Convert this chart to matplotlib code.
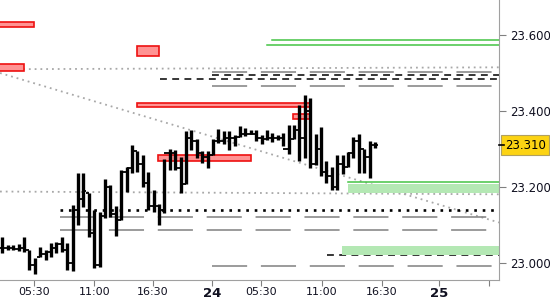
import numpy as np
import matplotlib.pyplot as plt
from matplotlib.patches import Rectangle

# OHLC bars (index based)
highs = [23.069, 23.048, 23.048, 23.051, 23.069, 23.035, 23.014, 23.043, 23.035, 23.053,
         23.056, 23.069, 23.053, 23.153, 23.237, 23.237, 23.185, 23.140, 23.135, 23.221,
         23.206, 23.150, 23.245, 23.253, 23.311, 23.295, 23.284, 23.240, 23.192, 23.156,
         23.274, 23.300, 23.297, 23.279, 23.347, 23.350, 23.326, 23.295, 23.295, 23.326,
         23.353, 23.347, 23.347, 23.337, 23.360, 23.355, 23.350, 23.350, 23.337, 23.350,
         23.342, 23.337, 23.342, 23.363, 23.363, 23.416, 23.442, 23.434, 23.339, 23.358,
         23.269, 23.253, 23.284, 23.284, 23.292, 23.332, 23.339, 23.300, 23.321, 23.318]
lows = [23.027, 23.035, 23.035, 23.032, 23.030, 22.982, 22.972, 23.017, 23.009, 23.017,
        23.027, 23.030, 22.982, 22.980, 23.101, 23.148, 23.069, 22.988, 22.990, 23.119,
        23.122, 23.072, 23.114, 23.187, 23.237, 23.240, 23.200, 23.140, 23.135, 23.101,
        23.132, 23.245, 23.245, 23.185, 23.208, 23.297, 23.276, 23.263, 23.250, 23.284,
        23.316, 23.313, 23.297, 23.308, 23.332, 23.334, 23.339, 23.321, 23.313, 23.324,
        23.318, 23.324, 23.308, 23.287, 23.326, 23.269, 23.276, 23.250, 23.258, 23.229,
        23.211, 23.192, 23.192, 23.234, 23.253, 23.276, 23.237, 23.237, 23.224, 23.303]
closes = [23.040, 23.040, 23.038, 23.040, 23.035, 22.995, 23.010, 23.025, 23.030, 23.040,
          23.050, 23.035, 23.000, 23.140, 23.170, 23.190, 23.080, 22.995, 23.125, 23.200,
          23.130, 23.090, 23.240, 23.250, 23.295, 23.260, 23.210, 23.150, 23.150, 23.140,
          23.290, 23.290, 23.250, 23.200, 23.330, 23.320, 23.290, 23.280, 23.260, 23.320,
          23.320, 23.330, 23.330, 23.320, 23.340, 23.340, 23.340, 23.330, 23.325, 23.330,
          23.330, 23.330, 23.300, 23.300, 23.350, 23.330, 23.400, 23.260, 23.300, 23.240,
          23.230, 23.200, 23.260, 23.240, 23.290, 23.320, 23.300, 23.280, 23.310, 23.310]

last_price = 23.310

xtick_pos = [5.85, 17.0, 27.9, 38.8, 47.9, 59.2, 70.3, 80.9, 90.1]
xtick_labels = ["05:30", "11:00", "16:30", "24", "05:30", "11:00", "16:30", "25", ""]
ytick_vals = [23.6, 23.4, 23.2, 23.0]

# zones: (start index, end index, low, high)
red_zones = [(-3, 5.85, 23.6194, 23.6325), (-3, 4.0, 23.5055, 23.5223),
             (24.9, 29.0, 23.5441, 23.5703), (24.9, 57.1, 23.4102, 23.4207),
             (53.8, 57.1, 23.3787, 23.3932), (28.8, 46.0, 23.2685, 23.2843)]
green_zones = [(64.0, 95, 23.1845, 23.2081), (62.9, 95, 23.0218, 23.0454)]
green_lines = [(49.9, 23.5853), (49.0, 23.5722), (64.0, 23.2126)]
gray_dash = [(10.7, 23.1207), (10.7, 23.0874), (38.8, 22.9942), (38.8, 23.5029), (38.8, 23.4654)]
black_dash = [(29.2, 23.4829), (38.8, 23.4934), (60.1, 23.0218)]
black_dot_level = (10.7, 23.1399)
# sloped gray dotted lines: (x0, y0, x1, y1)
gray_dots = [(-0.44, 23.5094, 91.96, 23.5144), (-0.44, 23.4995, 91.96, 23.1071),
             (-0.44, 23.1884, 91.96, 23.1811)]

x_left, x_right = -0.44, 91.96
y_bot, y_top = 22.9562, 23.6911

fig = plt.figure(figsize=(5.5, 3), dpi=100)
ax = fig.add_axes([0, 20 / 300, 499 / 550, 280 / 300])
ax.set_xlim(x_left, x_right)
ax.set_ylim(y_bot, y_top)

# levels
for x0, y0, x1, y1 in gray_dots:
    ax.plot([x0, x1], [y0, y1], color="#a8a8a8", lw=1.3, linestyle=(0, (1, 2.2)), zorder=1)
for x0, lvl in gray_dash:
    ax.plot([x0, x_right], [lvl, lvl], color="#808080", lw=1.1, linestyle=(0, (23, 9)), zorder=1)
for x0, lvl in black_dash:
    ax.plot([x0, x_right], [lvl, lvl], color="black", lw=1.1, linestyle=(0, (4.5, 3.5)), zorder=1)
ax.plot([black_dot_level[0], x_right], [black_dot_level[1]] * 2, color="black", lw=1.9,
        linestyle=(0, (1, 2.2)), zorder=1)
for x0, lvl in green_lines:
    ax.plot([x0, x_right], [lvl, lvl], color="#44c444", lw=1.1, zorder=2)
for x0, x1, lo, hi in green_zones:
    ax.add_patch(Rectangle((x0, lo), x1 - x0, hi - lo, facecolor="#b4e8b4",
                           edgecolor="none", zorder=1))
for x0, x1, lo, hi in red_zones:
    ax.add_patch(Rectangle((x0, lo), x1 - x0, hi - lo, facecolor="#ff9393",
                           edgecolor="#ee1111", lw=1.2, zorder=2))

# bars
idx = np.arange(len(highs))
opens = [closes[0]] + closes[:-1]
opens = np.clip(opens, lows, highs)
ax.vlines(idx, lows, highs, color="black", lw=2.4, zorder=3)
ax.hlines(opens, idx - 0.5, idx, color="black", lw=1.3, zorder=3)
ax.hlines(closes, idx, idx + 0.5, color="black", lw=1.3, zorder=3)

# axes styling
for s in ["top", "left"]:
    ax.spines[s].set_visible(False)
ax.spines["right"].set_color("#a0a0a0")
ax.spines["bottom"].set_color("#a0a0a0")
ax.yaxis.tick_right()
ax.set_yticks(ytick_vals)
ax.set_yticklabels([f"{v:.3f}" for v in ytick_vals], fontsize=8.5, color="#101020")
ax.tick_params(axis="y", length=5, color="#808080", pad=3)
ax.set_xticks(xtick_pos)
ax.set_xticklabels(xtick_labels, fontsize=8, color="#101020")
ax.tick_params(axis="x", length=4, color="#808080", pad=1)
for lbl in ax.get_xticklabels():
    if lbl.get_text() in ("24", "25"):
        lbl.set_fontweight("bold")
        lbl.set_fontsize(9.5)

# last price marker
ax.plot([x_right, x_right + 1.0], [last_price, last_price], color="black", lw=1.2,
        clip_on=False, zorder=4)
ax.text(x_right + 1.1, last_price, f"{last_price:.3f}", fontsize=8.5, color="black",
        va="center", ha="left", clip_on=False,
        bbox=dict(boxstyle="square,pad=0.3", facecolor="#fcd313", edgecolor="#b0a060", lw=0.8))

fig.savefig("out.png", dpi=100)
